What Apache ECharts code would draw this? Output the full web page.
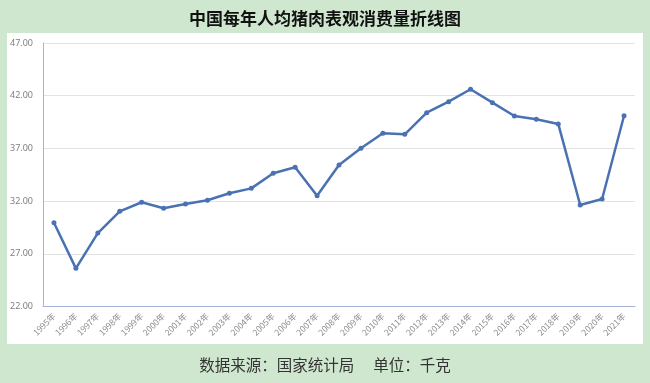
<!DOCTYPE html>
<html>
<head>
<meta charset="utf-8">
<script src="https://cdn.jsdelivr.net/npm/echarts@6/dist/echarts.min.js"></script>
<style>html,body{margin:0;padding:0;background:#d0e7cf;}#c{width:650px;height:383px;}</style>
</head>
<body>
<div id="c"></div>
<script>
const years = ['1995年','1996年','1997年','1998年','1999年','2000年','2001年','2002年','2003年','2004年','2005年','2006年','2007年','2008年','2009年','2010年','2011年','2012年','2013年','2014年','2015年','2016年','2017年','2018年','2019年','2020年','2021年'];
const perCapitaPork = [29.95, 25.62, 28.97, 31.03, 31.89, 31.32, 31.73, 32.08, 32.74, 33.21, 34.64, 35.21, 32.51, 35.43, 37.01, 38.43, 38.34, 40.39, 41.43, 42.61, 41.34, 40.07, 39.76, 39.32, 31.63, 32.20, 40.10];
const titleText = '中国每年人均猪肉表观消费量折线图';
const footerText = '数据来源：国家统计局　 单位：千克';

const chart = echarts.init(document.getElementById('c'), null, {renderer: 'canvas'});
chart.setOption({
  animation: false,
  backgroundColor: '#d0e7cf',
  graphic: [
    {type: 'rect', shape: {x: 7, y: 33, width: 636, height: 311}, style: {fill: '#ffffff'}, z: -10, silent: true}
  ],
  title: [
    {text: titleText, left: 'center', top: 5, textStyle: {fontFamily: 'Noto Sans CJK SC', fontSize: 17, fontWeight: 'bold', color: '#111111'}},
    {text: footerText, left: 'center', top: 352, textStyle: {fontFamily: 'Noto Sans CJK SC', fontSize: 15.5, fontWeight: 'normal', color: '#333333'}}
  ],
  grid: {left: 43, right: 15, top: 43, bottom: 76.5, containLabel: false},
  xAxis: {
    type: 'category',
    data: years,
    boundaryGap: true,
    axisLine: {lineStyle: {color: '#a3b3d9', width: 1}},
    axisTick: {show: false},
    axisLabel: {rotate: 45, fontSize: 8.5, color: '#8c8c8c', margin: 8, interval: 0, fontFamily: 'Noto Sans CJK SC'}
  },
  yAxis: {
    type: 'value',
    min: 22, max: 47, interval: 5,
    axisLine: {show: true, lineStyle: {color: '#a3b3d9', width: 1}},
    axisTick: {show: false},
    splitLine: {lineStyle: {color: '#e3e3e3', width: 1}},
    axisLabel: {fontSize: 9, color: '#7f7f7f', margin: 10, formatter: v => v.toFixed(2), fontFamily: 'Noto Sans'}
  },
  series: [{
    type: 'line',
    data: perCapitaPork,
    symbol: 'circle',
    symbolSize: 5,
    lineStyle: {color: '#4a72b2', width: 2.5},
    itemStyle: {color: '#4a72b2'}
  }]
});
</script>
</body>
</html>
